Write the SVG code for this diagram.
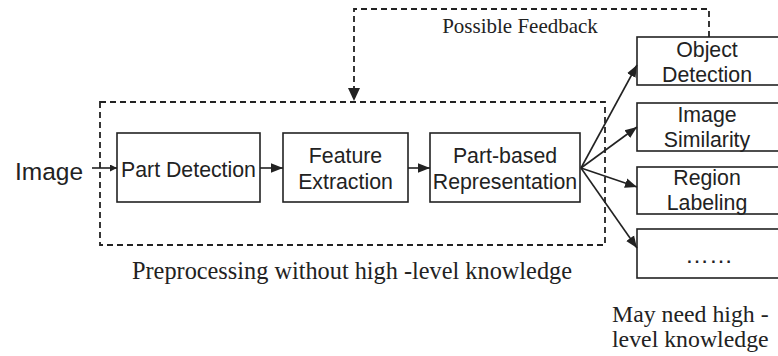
<svg xmlns="http://www.w3.org/2000/svg" width="778" height="356" viewBox="0 0 778 356">
  <style>
    .box { fill: #fff; stroke: #222; stroke-width: 1.6; }
    .sans { font-family: "Liberation Sans", Arial, sans-serif; fill: #222; font-size: 21.3px; }
    .serif { font-family: "Liberation Serif", "Times New Roman", serif; fill: #222; }
    .edge { fill: none; stroke: #222; stroke-width: 1.6; }
    .dash { fill: none; stroke: #222; stroke-width: 1.8; stroke-dasharray: 6 4; }
  </style>
  <defs>
    <marker id="arrow" viewBox="0 0 10 10" refX="10" refY="5" markerWidth="7" markerHeight="7" markerUnits="userSpaceOnUse" orient="auto">
      <path d="M0,0 L10,5 L0,10 z" fill="#222"/>
    </marker>
    <marker id="arrowBig" viewBox="0 0 10 10" refX="10" refY="5" markerWidth="12" markerHeight="12" markerUnits="userSpaceOnUse" orient="auto">
      <path d="M0,1 L10,5 L0,9 z" fill="#222"/>
    </marker>
  </defs>
  <rect width="778" height="356" fill="#fff"/>

  <!-- preprocessing stage frame -->
  <g id="preprocessing">
    <rect x="100" y="102" width="505" height="143" class="dash" stroke-dasharray="5 3.5"/>
    <text x="352" y="279" class="serif" font-size="24.3" text-anchor="middle">Preprocessing without high -level knowledge</text>
  </g>

  <g id="input">
    <text x="15" y="180" class="sans" style="font-size:24.5px">Image</text>
  </g>

  <g id="part-detection">
    <rect x="117" y="133" width="143" height="69" class="box"/>
    <text x="188.5" y="177" class="sans" text-anchor="middle">Part Detection</text>
  </g>

  <g id="feature-extraction">
    <rect x="283" y="133" width="125" height="69" class="box"/>
    <text x="345.5" y="163" class="sans" text-anchor="middle">Feature</text>
    <text x="345.5" y="189" class="sans" text-anchor="middle">Extraction</text>
  </g>

  <g id="part-based-representation">
    <rect x="430" y="133" width="150" height="69" class="box"/>
    <text x="505" y="163" class="sans" text-anchor="middle">Part-based</text>
    <text x="505" y="189" class="sans" text-anchor="middle">Representation</text>
  </g>

  <g id="object-detection">
    <rect x="637" y="37" width="150" height="48" class="box"/>
    <text x="707" y="57" class="sans" text-anchor="middle">Object</text>
    <text x="707" y="82" class="sans" text-anchor="middle">Detection</text>
  </g>

  <g id="image-similarity">
    <rect x="637" y="103" width="150" height="48" class="box"/>
    <text x="707" y="122" class="sans" text-anchor="middle">Image</text>
    <text x="707" y="147" class="sans" text-anchor="middle">Similarity</text>
  </g>

  <g id="region-labeling">
    <rect x="637" y="167" width="150" height="47" class="box"/>
    <text x="707" y="185" class="sans" text-anchor="middle">Region</text>
    <text x="707" y="210" class="sans" text-anchor="middle">Labeling</text>
  </g>

  <g id="more-tasks">
    <rect x="637" y="229" width="150" height="49" class="box"/>
    <text x="709" y="263" class="sans" style="font-size:24px" text-anchor="middle">……</text>
  </g>

  <g id="task-note">
    <text x="612" y="322" class="serif" font-size="23.8">May need high -</text>
    <text x="612" y="347" class="serif" font-size="23.8">level knowledge</text>
  </g>

  <g id="feedback-label">
    <text x="520" y="33" class="serif" font-size="21" text-anchor="middle">Possible Feedback</text>
  </g>

  <!-- connectors -->
  <g id="connectors">
    <line x1="92" y1="168" x2="117" y2="168" class="edge" marker-end="url(#arrow)"/>
    <line x1="260" y1="168" x2="283" y2="168" class="edge" marker-end="url(#arrowBig)"/>
    <line x1="408" y1="168" x2="430" y2="168" class="edge" marker-end="url(#arrowBig)"/>
    <line x1="581" y1="168" x2="637" y2="65" class="edge" marker-end="url(#arrowBig)"/>
    <line x1="581" y1="168" x2="637" y2="127" class="edge" marker-end="url(#arrowBig)"/>
    <line x1="581" y1="168" x2="637" y2="187" class="edge" marker-end="url(#arrowBig)"/>
    <line x1="581" y1="168" x2="637" y2="248" class="edge" marker-end="url(#arrowBig)"/>
    <path d="M709,37 V9 H354 V90" class="dash" stroke-dasharray="7 4"/>
    <path d="M348,88 L360,88 L354,101 z" fill="#222"/>
  </g>
</svg>
